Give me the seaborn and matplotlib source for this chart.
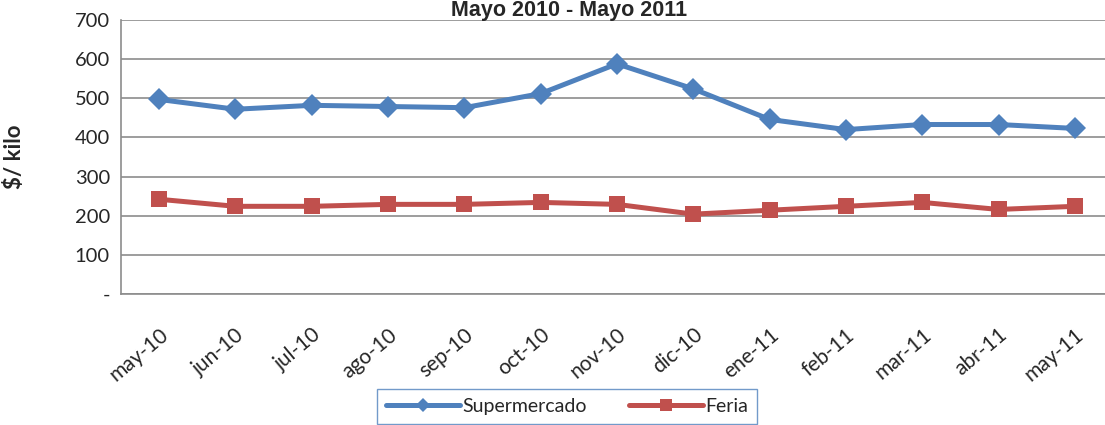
import pandas as pd
import seaborn as sns
import matplotlib.pyplot as plt
from matplotlib.ticker import FuncFormatter


meses = ["may-10", "jun-10", "jul-10", "ago-10", "sep-10", "oct-10", "nov-10",
         "dic-10", "ene-11", "feb-11", "mar-11", "abr-11", "may-11"]
supermercado = [497, 472, 482, 479, 476, 512, 588, 524, 446, 420, 433, 433, 423]
feria = [242, 224, 224, 229, 229, 234, 229, 204, 214, 224, 234, 216, 224]

df = pd.DataFrame({
    "mes": meses * 2,
    "pos": list(range(len(meses))) * 2,
    "precio": supermercado + feria,
    "tipo": ["Supermercado"] * len(meses) + ["Feria"] * len(meses),
})

sns.set_style("white")
plt.rcParams["font.family"] = ["Lato", "DejaVu Sans"]

fig = plt.figure(figsize=(11.05, 4.25), dpi=100)
ax = fig.add_axes([121 / 1105, 1 - 294 / 425, (1113 - 121) / 1105, (294 - 20) / 425])

sns.lineplot(
    data=df, x="pos", y="precio", hue="tipo", style="tipo",
    palette={"Supermercado": "#4F81BD", "Feria": "#C0504D"},
    markers={"Supermercado": "D", "Feria": "s"}, dashes=False,
    linewidth=3.6, markersize=11, markeredgewidth=0, ax=ax, legend=False,
)

ax.set_xlim(-0.5, len(meses) - 0.5)
ax.set_ylim(0, 700)
ax.set_yticks(range(0, 701, 100))
ax.yaxis.set_major_formatter(FuncFormatter(lambda v, p: "-" if v == 0 else f"{int(v)}"))
ax.set_xticks(range(len(meses)))
ax.set_xticklabels(meses, rotation=40, ha="right", rotation_mode="anchor")
ax.tick_params(axis="y", labelsize=14.5, length=0, pad=8)
ax.tick_params(axis="x", labelsize=15, length=0, pad=22)

ax.grid(axis="y", color="#8c8c8c", linewidth=1.2)
for s in ["top", "right"]:
    ax.spines[s].set_visible(False)
for s in ["left", "bottom"]:
    ax.spines[s].set_color("#8c8c8c")
    ax.spines[s].set_linewidth(1.2)

ax.set_xlabel("")
ax.set_ylabel("$/ kilo", fontsize=16, fontweight="bold", labelpad=36)
fig.text(0.515, 0.999, "Mayo 2010 - Mayo 2011", ha="center", va="top",
         fontsize=15.5, fontweight="bold", family="Liberation Sans")

handles = [
    plt.Line2D([], [], color="#4F81BD", marker="D", linewidth=3.6, markersize=7, markeredgewidth=0),
    plt.Line2D([], [], color="#C0504D", marker="s", linewidth=3.6, markersize=8, markeredgewidth=0),
]
leg = fig.legend(handles, ["Supermercado", "Feria"], loc="upper center",
                 bbox_to_anchor=(567 / 1105, 1 - 389 / 425), ncol=2, fontsize=14,
                 frameon=True, fancybox=False, edgecolor="#4F81BD", handlelength=3.8,
                 handletextpad=0.1, columnspacing=2.2, borderpad=0.45, borderaxespad=0)
leg.get_frame().set_linewidth(1.0)

fig.savefig("out.png", dpi=100)
